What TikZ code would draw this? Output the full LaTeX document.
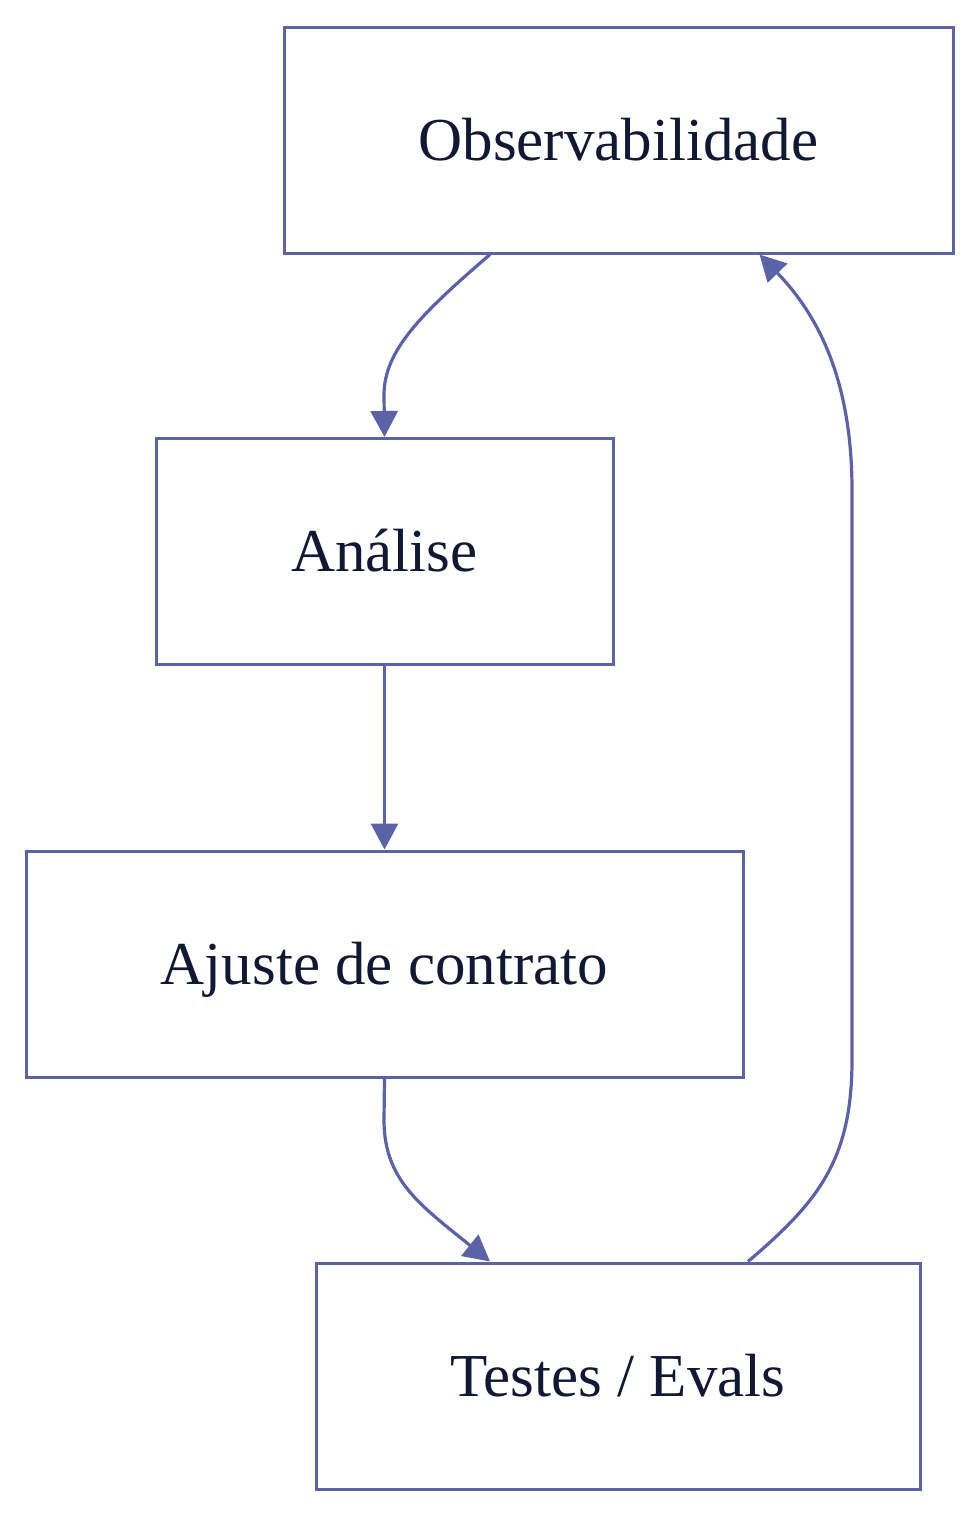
\documentclass[tikz,border=0pt]{standalone}
\usepackage{fontspec}
\setmainfont{Liberation Serif}
\usetikzlibrary{arrows.meta}
\definecolor{flowline}{HTML}{5B62A8}
\definecolor{flowtext}{HTML}{111833}
\tikzset{
  stage/.style={draw=flowline, line width=3pt, fill=white, minimum height=226pt,
                inner sep=0pt, text height=52pt, text depth=12pt, text=flowtext,
                font=\fontsize{61}{72}\selectfont},
  flow/.style={draw=flowline, line width=3.2pt,
               -{Triangle[length=26pt,width=27pt]}},
}

\begin{document}
\begin{tikzpicture}[x=1pt,y=-1pt]
    \useasboundingbox (0,0) rectangle (980,1516);
    \node[stage, minimum width=669pt] (obs) at (618.5, 140) {Observabilidade};
    \node[stage, minimum width=457pt] (analise) at (384.5, 551.5) {Análise};
    \node[stage, minimum width=717pt] (ajuste) at (384.5, 964) {Ajuste de contrato};
    \node[stage, minimum width=604pt] (testes) at (618, 1376) {Testes / Evals};
    \draw[flow] ([xshift=-128.5pt]obs.south) .. controls (422,313) and (384,350) .. (384,395) -- (analise.north);
    \draw[flow] (analise.south) -- (ajuste.north);
    \draw[flow] (ajuste.south) -- (384,1120) .. controls (384,1180) and (420,1205) .. ([xshift=-128pt]testes.north);
    \draw[flow] ([xshift=130pt]testes.north) .. controls (818,1202) and (852,1160) .. (852,1060)
      -- (852,490) .. controls (852,380) and (818,315) .. ([xshift=141pt]obs.south);
  \end{tikzpicture}
\end{document}
